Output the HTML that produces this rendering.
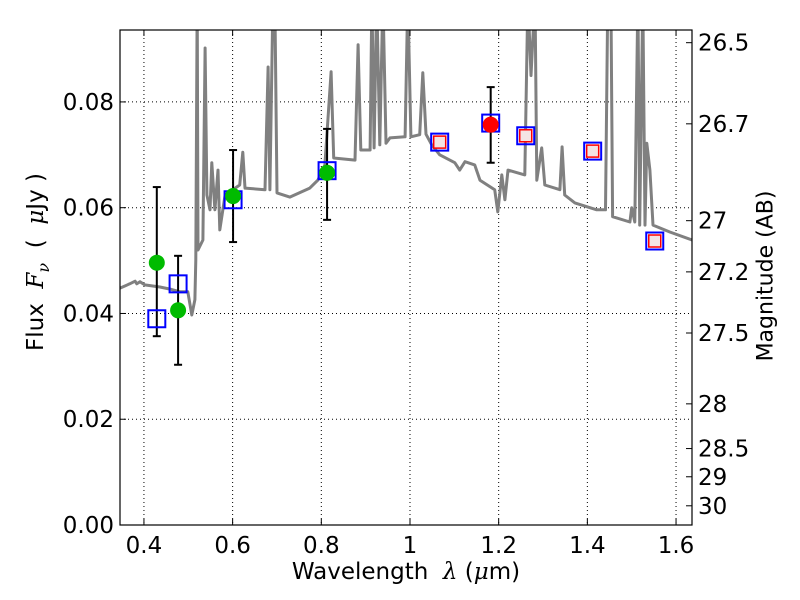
<!DOCTYPE html>
<html><head><meta charset="utf-8"><style>
body{margin:0;background:#fff}
svg{display:block;font-family:"DejaVu Sans","Liberation Sans",sans-serif}
</style></head><body>
<svg id="c" width="800" height="600" xmlns="http://www.w3.org/2000/svg"></svg>
<script>
const specWl=[0.346,0.368,0.380,0.384,0.391,0.402,0.436,0.459,0.481,0.499,0.508,0.515,0.517,0.520,0.522,0.533,0.538,0.542,0.549,0.553,0.560,0.567,0.571,0.583,0.616,0.623,0.628,0.673,0.680,0.684,0.691,0.695,0.700,0.729,0.774,0.792,0.808,0.822,0.828,0.876,0.883,0.889,0.910,0.914,0.919,0.925,0.932,0.939,0.946,0.955,0.989,0.995,1.002,1.022,1.029,1.036,1.049,1.067,1.101,1.112,1.124,1.146,1.158,1.191,1.198,1.207,1.214,1.221,1.259,1.266,1.273,1.282,1.286,1.297,1.304,1.338,1.343,1.349,1.372,1.421,1.441,1.446,1.453,1.457,1.496,1.500,1.507,1.514,1.518,1.525,1.530,1.534,1.541,1.548,1.586,1.636];
const specFlux=[0.0448,0.0456,0.0461,0.0456,0.0460,0.0454,0.0450,0.0446,0.0441,0.0441,0.0397,0.0426,0.0501,0.1,0.0520,0.0539,0.0902,0.0624,0.0596,0.0685,0.0596,0.0671,0.0558,0.0624,0.0643,0.0705,0.0637,0.0634,0.0866,0.0634,0.1,0.1,0.0628,0.0620,0.0637,0.0652,0.0681,0.0857,0.0694,0.0690,0.0908,0.0709,0.0709,0.1,0.0713,0.1,0.0719,0.1,0.0722,0.0732,0.0734,0.1,0.0734,0.0738,0.0855,0.0739,0.0719,0.0700,0.0685,0.0671,0.0687,0.0681,0.0652,0.0634,0.0592,0.0662,0.0615,0.0671,0.0662,0.1,0.085,0.1,0.0652,0.0713,0.0643,0.0634,0.0715,0.0624,0.0609,0.0596,0.0596,0.1,0.1,0.0583,0.0573,0.0600,0.0573,0.1,0.0567,0.1,0.0567,0.0722,0.0671,0.0567,0.0554,0.0539];
const greenWl=[0.429,0.477,0.601,0.813];
const greenFlux=[0.0496,0.0406,0.0622,0.0666];
const greenErrHi=[0.0639,0.0509,0.0709,0.0749];
const greenErrLo=[0.0357,0.0303,0.0535,0.0577];
const redWl=[1.182];
const redFlux=[0.0757];
const redErrHi=[0.0828];
const redErrLo=[0.0685];
const modelWl=[0.429,0.477,0.601,0.813,1.067,1.182,1.261,1.412,1.552];
const modelFlux=[0.0390,0.0456,0.0615,0.0670,0.0724,0.0760,0.0736,0.0707,0.0537];
const innerWl=[1.067,1.261,1.412,1.552];
const innerFlux=[0.0724,0.0736,0.0707,0.0537];
const xTicks=[0.4,0.6,0.8,1,1.2,1.4,1.6];
const xTickLabels=["0.4","0.6","0.8","1","1.2","1.4","1.6"];
const yTicks=[0,0.02,0.04,0.06,0.08];
const yTickLabels=["0.00","0.02","0.04","0.06","0.08"];
const magTicks=[26.5,26.7,27,27.2,27.5,28,28.5,29,30];
const magTickLabels=["26.5","26.7","27","27.2","27.5","28","28.5","29","30"];

const L=120,R=692,T=30,B=525,X0=0.346,X1=1.636,Y0=0,Y1=0.0936;
const sx=v=>L+(v-X0)/(X1-X0)*(R-L);
const sy=v=>B-(v-Y0)/(Y1-Y0)*(B-T);
const svg=document.getElementById('c');
const NS='http://www.w3.org/2000/svg';
function mk(tag,attrs,parent){const e=document.createElementNS(NS,tag);for(const k in attrs)e.setAttribute(k,attrs[k]);(parent||svg).appendChild(e);return e;}

const defs=mk('defs',{});
const cp=mk('clipPath',{id:'pc'},defs);mk('rect',{x:L,y:T,width:R-L,height:B-T},cp);

const grid=mk('g',{});


xTicks.forEach(v=>{mk('line',{x1:sx(v),x2:sx(v),y1:T,y2:B,stroke:'#000','stroke-width':1,'stroke-dasharray':'1,3'},grid);});
yTicks.forEach(v=>{mk('line',{x1:L,x2:R,y1:sy(v),y2:sy(v),stroke:'#000','stroke-width':1,'stroke-dasharray':'1,3'},grid);});

const plot=mk('g',{'clip-path':'url(#pc)'});
let d='';specWl.forEach((w,i)=>{d+=(i?'L':'M')+sx(w).toFixed(1)+','+sy(specFlux[i]).toFixed(1);});
const sp=mk('path',{d:d,fill:'none',stroke:'#808080','stroke-width':3,'stroke-linejoin':'round'},plot);



function errbar(w,lo,hi,name){const g=mk('g',{},plot);


const x=sx(w);mk('line',{x1:x,x2:x,y1:sy(lo),y2:sy(hi),stroke:'#000','stroke-width':2},g);
[lo,hi].forEach(v=>mk('line',{x1:x-4,x2:x+4,y1:sy(v),y2:sy(v),stroke:'#000','stroke-width':2},g));}
greenWl.forEach((w,i)=>errbar(w,greenErrLo[i],greenErrHi[i],'green-errorbar'));
redWl.forEach((w,i)=>errbar(w,redErrLo[i],redErrHi[i],'red-errorbar'));

modelWl.forEach((w,i)=>{const r=mk('rect',{x:sx(w)-8.5,y:sy(modelFlux[i])-8.5,width:17,height:17,fill:'none',stroke:'#0000ff','stroke-width':2},plot);

});
innerWl.forEach((w,i)=>{const r=mk('rect',{x:sx(w)-6,y:sy(innerFlux[i])-6,width:12,height:12,fill:'#f4e4e4',stroke:'#ff0000','stroke-width':1.5},plot);

});
greenWl.forEach((w,i)=>{const c=mk('circle',{cx:sx(w),cy:sy(greenFlux[i]),r:8,fill:'#00bb00'},plot);

});
redWl.forEach((w,i)=>{const c=mk('circle',{cx:sx(w),cy:sy(redFlux[i]),r:8,fill:'#ff0000'},plot);

});

const frame=mk('rect',{x:L,y:T,width:R-L,height:B-T,fill:'none',stroke:'#000','stroke-width':1.2});



const ax=mk('g',{'font-size':23,fill:'#000'});


xTicks.forEach((v,i)=>{const x=sx(v);mk('line',{x1:x,x2:x,y1:B,y2:B-6,stroke:'#000'},ax);mk('line',{x1:x,x2:x,y1:T,y2:T+6,stroke:'#000'},ax);
const t=mk('text',{x:x,y:B+28,'text-anchor':'middle'},ax);t.textContent=xTickLabels[i];

});
yTicks.forEach((v,i)=>{const y=sy(v);mk('line',{x1:L,x2:L+6,y1:y,y2:y,stroke:'#000'},ax);
const t=mk('text',{x:L-6,y:y+8,'text-anchor':'end'},ax);t.textContent=yTickLabels[i];

});
magTicks.forEach((m,i)=>{const f=Math.pow(10,(23.9-m)/2.5);const y=sy(f);mk('line',{x1:R,x2:R-6,y1:y,y2:y,stroke:'#000'},ax);
const t=mk('text',{x:R+6,y:y+8,'text-anchor':'start'},ax);t.textContent=magTickLabels[i];

});
</script>
<div style="position:absolute;left:0;top:0;width:800px;height:600px;pointer-events:none;font-family:'DejaVu Sans','Liberation Sans',sans-serif;font-size:23px">
<div style="position:absolute;left:406px;top:559px;transform:translateX(-50%);white-space:nowrap">Wavelength &nbsp;<i style="font-family:'DejaVu Serif',serif">λ</i> (<i style="font-family:'DejaVu Serif',serif">μ</i>m)</div>
<div style="position:absolute;left:38px;top:262px;transform:translate(-50%,-50%) rotate(-90deg);white-space:nowrap">Flux &nbsp;<i style="font-family:'DejaVu Serif',serif">F<sub style="font-size:16px">ν</sub></i> &nbsp;( &nbsp;<i style="font-family:'DejaVu Serif',serif">μ</i>Jy )</div>
<div style="position:absolute;left:766px;top:276px;font-size:22px;transform:translate(-50%,-50%) rotate(-90deg);white-space:nowrap">Magnitude (AB)</div>
</div>
</body></html>
